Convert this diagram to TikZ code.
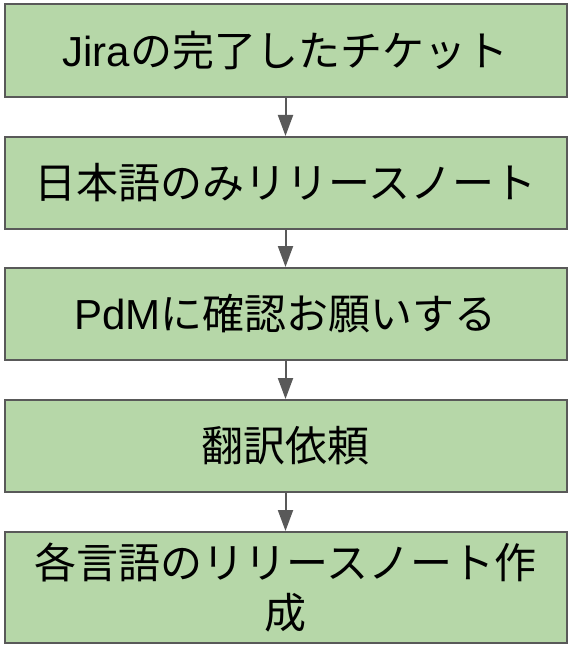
\documentclass[tikz,border=0pt]{standalone}
\usepackage{fontspec}
\setmainfont{Liberation Sans}
\newfontfamily\jp{Noto Sans CJK JP}
\usetikzlibrary{positioning, arrows.meta}
\definecolor{flowGreen}{HTML}{B6D7A8}
\definecolor{flowGray}{HTML}{595959}

\begin{document}
\begin{tikzpicture}[
    flowStep/.style={draw=flowGray, line width=2pt, rectangle, fill=flowGreen, align=center, font=\fontsize{42}{50}\selectfont, minimum width=562pt, minimum height=92pt, inner sep=0pt},
    flowArrow/.style={draw=flowGray, line width=2pt, -{Triangle[length=21pt, width=15pt]}},
]
\useasboundingbox (0pt, 0pt) rectangle (572pt, -650pt);
\node[flowStep, minimum height=93pt] (jira)   at (285.5pt, -50.5pt) {Jira{\jp の完了したチケット}};
\node[flowStep] (jaNote) at (285.5pt, -183pt) {\jp 日本語のみリリースノート};
\node[flowStep] (pdm)    at (285.5pt, -314pt) {PdM{\jp に確認お願いする}};
\node[flowStep] (trans)  at (285.5pt, -446pt) {\jp 翻訳依頼};
\node[flowStep, minimum height=111pt] (allNote) at (285.5pt, -587.5pt) {\jp 各言語のリリースノート作\\\jp 成};
\draw[flowArrow] (jira) -- (jaNote);
\draw[flowArrow] (jaNote) -- (pdm);
\draw[flowArrow] (pdm) -- (trans);
\draw[flowArrow] (trans) -- (allNote);
\end{tikzpicture}
\end{document}
